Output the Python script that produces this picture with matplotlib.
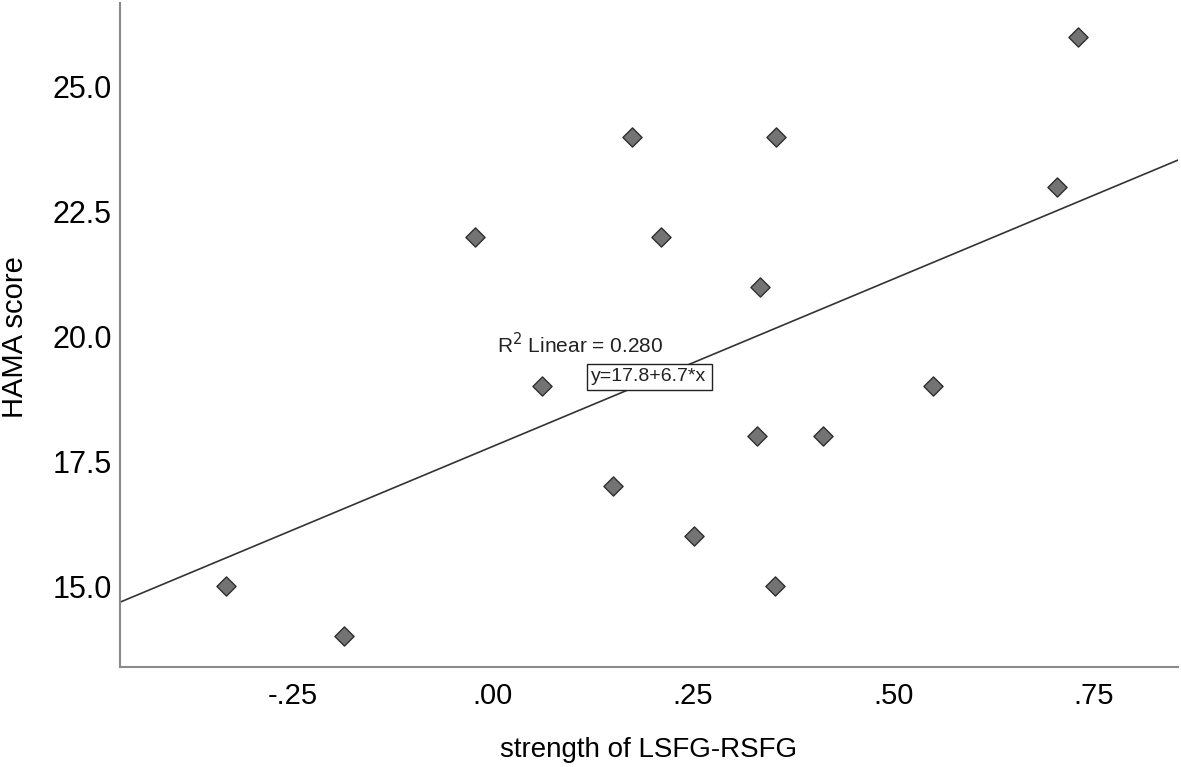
import matplotlib.pyplot as plt
import numpy as np

# strength of LSFG-RSFG vs HAMA score
strength = [-0.333, -0.186, -0.022, 0.061, 0.150, 0.174, 0.210, 0.251,
            0.330, 0.334, 0.354, 0.352, 0.412, 0.550, 0.705, 0.731]
hama = [15, 14, 22, 19, 17, 24, 22, 16, 18, 21, 24, 15, 18, 19, 23, 26]

intercept = 17.8
slope = 6.7
r2 = 0.280

xticks = [-0.25, 0.0, 0.25, 0.50, 0.75]
xticklabels = ['-.25', '.00', '.25', '.50', '.75']
yticks = [15.0, 17.5, 20.0, 22.5, 25.0]

plt.rcParams['font.family'] = ['Liberation Sans', 'DejaVu Sans']

fig = plt.figure(figsize=(11.81, 7.67), dpi=100)
ax = fig.add_axes([0.1016, 0.1304, 0.8959, 0.8656])

xlim = (-0.466, 0.856)
ax.set_xlim(xlim)
ax.set_ylim(13.38, 26.68)

xs = np.array(xlim)
ax.plot(xs, intercept + slope * xs, color='#333333', lw=1.2, zorder=2)

ax.scatter(strength, hama, marker='D', s=95, facecolor='#737373',
           edgecolor='#2e2e2e', linewidth=1.0, zorder=3)

ax.text(0.005, 19.67, 'R$^2$ Linear = %.3f' % r2, fontsize=15,
        color='#222222', ha='left', va='baseline')
ax.text(0.195, 19.19, 'y=%.1f+%.1f*x' % (intercept, slope), fontsize=14,
        color='#222222', ha='center', va='center', zorder=4,
        bbox=dict(boxstyle='square,pad=0.25', facecolor='white',
                  edgecolor='#222222', linewidth=1.0))

ax.set_xticks(xticks)
ax.set_xticklabels(xticklabels)
ax.set_yticks(yticks)
ax.set_yticklabels([f'{v:.1f}' for v in yticks])
ax.tick_params(axis='x', length=0, labelsize=21, pad=11)
ax.tick_params(axis='y', length=0, labelsize=22, pad=6)

for side in ['top', 'right']:
    ax.spines[side].set_visible(False)
for side in ['left', 'bottom']:
    ax.spines[side].set_color('#8a8a8a')
    ax.spines[side].set_linewidth(1.5)

ax.set_xlabel('strength of LSFG-RSFG', fontsize=20)
ax.set_ylabel('HAMA score', fontsize=21)
ax.xaxis.set_label_coords(0.5, -0.105)
ax.yaxis.set_label_coords(-0.086, 0.497)

fig.savefig('out.png', dpi=100)
